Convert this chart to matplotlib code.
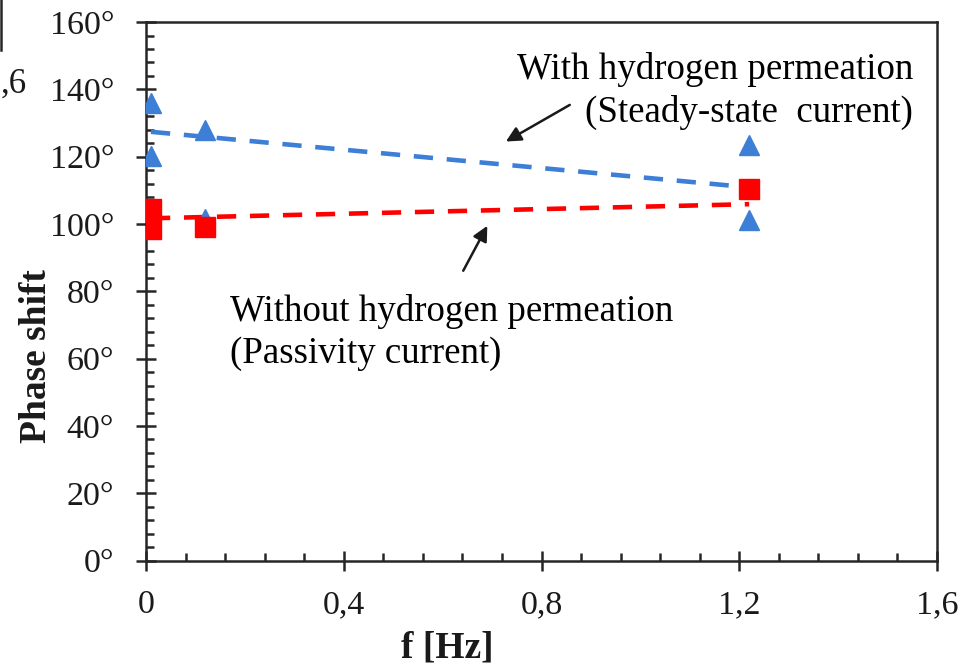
import matplotlib.pyplot as plt
from matplotlib.lines import Line2D
from matplotlib.ticker import MultipleLocator, FuncFormatter

plt.rcParams['font.family'] = ['Liberation Serif', 'DejaVu Serif']

# data
blue_x = [0.01, 0.01, 0.12, 0.12, 1.22, 1.22]
blue_y = [136.0, 120.2, 128.0, 101.5, 123.5, 101.2]
red_x = [0.01, 0.01, 0.12, 1.22]
red_y = [104.6, 98.4, 99.2, 110.5]
trend_x = [0.01, 1.22]
blue_trend = [127.4, 110.9]
red_trend = [101.7, 105.9]

blue = '#3d7fd6'
red = '#ff0000'
dark = '#262626'

fig = plt.figure(figsize=(9.67, 6.69), dpi=100)
ax = fig.add_axes([0.151, 0.162, 0.818, 0.805])

ax.plot(trend_x, blue_trend, color=blue, lw=3.3, dashes=(4.2, 3.0), zorder=2)
ax.plot(trend_x, red_trend, color=red, lw=3.3, dashes=(4.2, 3.0), zorder=2)
ax.plot(blue_x, blue_y, ls='none', marker='^', ms=14.5, color=blue, mec=blue, zorder=3)
ax.plot(red_x, red_y, ls='none', marker='s', ms=15, color=red, mec=red, zorder=4)

ax.set_xlim(0, 1.6)
ax.set_ylim(0, 160)
ax.xaxis.set_major_locator(MultipleLocator(0.4))
ax.xaxis.set_minor_locator(MultipleLocator(0.08))
ax.yaxis.set_major_locator(MultipleLocator(20))
ax.yaxis.set_minor_locator(MultipleLocator(4))
ax.xaxis.set_major_formatter(FuncFormatter(lambda v, p: ('%g' % round(v, 1)).replace('.', ',')))
ax.yaxis.set_major_formatter(FuncFormatter(lambda v, p: '%d\u00b0' % round(v)))

for s in ax.spines.values():
    s.set_linewidth(1.8)
    s.set_color(dark)
ax.tick_params(which='major', direction='inout', length=14, width=1.8, color=dark,
               labelsize=24.5, labelcolor='#1a1a1a')
ax.tick_params(axis='y', which='major', pad=16)
ax.tick_params(axis='x', which='major', pad=14)
ax.tick_params(which='minor', direction='in', length=5.8, width=1.8, color=dark)

# axis titles sit off-centre in the reference, so place them by hand
fig.text(37 / 967, 1 - 356 / 669, 'Phase shift', rotation=90, fontsize=27,
         fontweight='bold', ha='center', va='center', color='#1a1a1a')
fig.text(447 / 967, 1 - 658 / 669, 'f [Hz]', fontsize=27, fontweight='bold',
         ha='center', va='baseline', color='#1a1a1a')

ax.text(1.551, 139.5, 'With hydrogen permeation\n(Steady-state  current)', fontsize=26.6,
        ha='right', va='center', multialignment='right', linespacing=1.27)
ax.text(0.17, 67.8, 'Without hydrogen permeation\n(Passivity current)', fontsize=26.6,
        ha='left', va='center', multialignment='left', linespacing=1.27)

arrow = dict(arrowstyle='-|>,head_length=0.9,head_width=0.45', color='#1a1a1a', lw=1.8)
ax.annotate('', xy=(0.723, 124.1), xytext=(0.862, 135.8), arrowprops=arrow)
ax.annotate('', xy=(0.693, 100.2), xytext=(0.639, 85.4), arrowprops=arrow)

# remnants of the neighbouring panel at the left edge
fig.text(0.5 / 967, 1 - 84 / 669, ',6', fontsize=25, ha='left', va='center', color='#1a1a1a')
fig.add_artist(Line2D([1 / 967, 1 / 967], [1, 1 - 50 / 669], color=dark, lw=1.8))

fig.savefig('out.png', dpi=100)
